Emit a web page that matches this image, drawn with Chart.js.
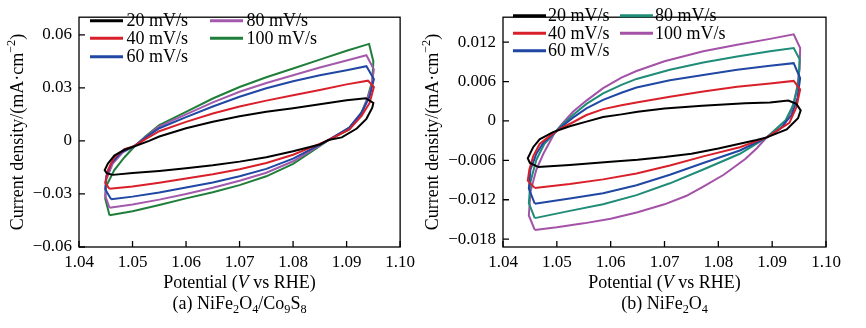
<!DOCTYPE html>
<html><head><meta charset="utf-8">
<script src="https://cdn.jsdelivr.net/npm/chart.js@4.4.0/dist/chart.umd.min.js"></script>
<style>
html,body{margin:0;padding:0;background:#fff;width:866px;height:328px;overflow:hidden}
#wrap{position:relative;width:866px;height:328px}
canvas{position:absolute;top:0}
</style></head><body>
<div id="wrap">
<canvas id="ca" width="420" height="328" style="left:0"></canvas>
<canvas id="cb" width="446" height="328" style="left:420px"></canvas>
</div>
<script>
// ---------- data ----------
const SERIES_LABELS = ['20 mV/s', '40 mV/s', '60 mV/s', '80 mV/s', '100 mV/s'];
const X_TICKS = [1.04, 1.05, 1.06, 1.07, 1.08, 1.09, 1.10];
const Y_TICKS_A = [-0.06, -0.03, 0, 0.03, 0.06];
const Y_TICKS_B = [-0.018, -0.012, -0.006, 0, 0.006, 0.012];

// (a) NiFe2O4/Co9S8 : [potential V, current density mA/cm2] around each loop
const A20 = [[1.0463,-0.0192],[1.0452,-0.0183],[1.0448,-0.0165],[1.0454,-0.0128],[1.0466,-0.0083],[1.0485,-0.0050],[1.0504,-0.0030],[1.0531,0.0000],[1.0550,0.0025],[1.0600,0.0072],[1.0650,0.0108],[1.0700,0.0140],[1.0750,0.0165],[1.0800,0.0185],[1.0850,0.0208],[1.0900,0.0230],[1.0936,0.0242],[1.0950,0.0215],[1.0948,0.0188],[1.0937,0.0125],[1.0919,0.0070],[1.0891,0.0020],[1.0866,0.0005],[1.0850,-0.0020],[1.0800,-0.0058],[1.0750,-0.0092],[1.0700,-0.0117],[1.0650,-0.0138],[1.0600,-0.0155],[1.0550,-0.0170],[1.0500,-0.0182],[1.0463,-0.0192]];
const A40 = [[1.0457,-0.0271],[1.0449,-0.0237],[1.0454,-0.0165],[1.0466,-0.0092],[1.0485,-0.0047],[1.0504,-0.0028],[1.0525,0.0012],[1.0550,0.0055],[1.0600,0.0108],[1.0650,0.0155],[1.0700,0.0195],[1.0750,0.0228],[1.0800,0.0258],[1.0850,0.0288],[1.0900,0.0320],[1.0940,0.0341],[1.0951,0.0305],[1.0943,0.0215],[1.0928,0.0142],[1.0905,0.0065],[1.0866,0.0005],[1.0835,-0.0035],[1.0800,-0.0078],[1.0750,-0.0125],[1.0700,-0.0160],[1.0650,-0.0188],[1.0600,-0.0212],[1.0550,-0.0236],[1.0500,-0.0258],[1.0457,-0.0271]];
const A60 = [[1.0460,-0.0330],[1.0449,-0.0273],[1.0451,-0.0200],[1.0460,-0.0128],[1.0479,-0.0065],[1.0504,-0.0028],[1.0525,0.0020],[1.0550,0.0072],[1.0600,0.0135],[1.0650,0.0195],[1.0700,0.0250],[1.0750,0.0298],[1.0800,0.0338],[1.0850,0.0372],[1.0900,0.0400],[1.0937,0.0423],[1.0951,0.0350],[1.0943,0.0251],[1.0928,0.0160],[1.0905,0.0075],[1.0866,0.0005],[1.0835,-0.0045],[1.0800,-0.0100],[1.0750,-0.0158],[1.0700,-0.0200],[1.0650,-0.0235],[1.0600,-0.0264],[1.0550,-0.0292],[1.0500,-0.0315],[1.0460,-0.0330]];
const A80 = [[1.0457,-0.0378],[1.0449,-0.0309],[1.0451,-0.0219],[1.0463,-0.0128],[1.0482,-0.0065],[1.0504,-0.0028],[1.0525,0.0024],[1.0550,0.0082],[1.0600,0.0150],[1.0650,0.0218],[1.0700,0.0278],[1.0750,0.0328],[1.0800,0.0372],[1.0850,0.0415],[1.0900,0.0455],[1.0937,0.0485],[1.0951,0.0404],[1.0946,0.0300],[1.0930,0.0170],[1.0905,0.0075],[1.0866,0.0005],[1.0835,-0.0052],[1.0800,-0.0115],[1.0750,-0.0180],[1.0700,-0.0225],[1.0650,-0.0265],[1.0600,-0.0300],[1.0550,-0.0332],[1.0500,-0.0360],[1.0457,-0.0378]];
const A100 = [[1.0457,-0.0420],[1.0449,-0.0327],[1.0451,-0.0255],[1.0466,-0.0165],[1.0485,-0.0092],[1.0504,-0.0030],[1.0525,0.0028],[1.0550,0.0090],[1.0600,0.0165],[1.0650,0.0240],[1.0700,0.0305],[1.0750,0.0360],[1.0800,0.0410],[1.0850,0.0460],[1.0900,0.0510],[1.0942,0.0549],[1.0950,0.0450],[1.0948,0.0341],[1.0938,0.0233],[1.0925,0.0142],[1.0905,0.0065],[1.0866,0.0005],[1.0835,-0.0060],[1.0800,-0.0130],[1.0750,-0.0200],[1.0700,-0.0250],[1.0650,-0.0290],[1.0600,-0.0325],[1.0550,-0.0362],[1.0500,-0.0398],[1.0457,-0.0420]];

// (b) NiFe2O4
const B20 = [[1.0465,-0.0070],[1.0450,-0.0064],[1.0446,-0.0057],[1.0456,-0.0040],[1.0468,-0.0028],[1.0493,-0.0017],[1.0524,-0.0008],[1.0555,-0.0001],[1.0586,0.0006],[1.0620,0.0010],[1.0650,0.0014],[1.0700,0.0019],[1.0770,0.0023],[1.0850,0.0027],[1.0896,0.0028],[1.0930,0.0031],[1.0945,0.0026],[1.0953,0.0016],[1.0948,0.0004],[1.0927,-0.0013],[1.0890,-0.0025],[1.0871,-0.0029],[1.0800,-0.0042],[1.0750,-0.0050],[1.0700,-0.0055],[1.0650,-0.0059],[1.0600,-0.0062],[1.0524,-0.0067],[1.0465,-0.0070]];
const B40 = [[1.0459,-0.0102],[1.0446,-0.0091],[1.0449,-0.0074],[1.0456,-0.0054],[1.0468,-0.0035],[1.0493,-0.0019],[1.0510,-0.0010],[1.0530,-0.0002],[1.0555,0.0009],[1.0586,0.0018],[1.0620,0.0024],[1.0648,0.0028],[1.0710,0.0037],[1.0772,0.0045],[1.0835,0.0052],[1.0896,0.0057],[1.0940,0.0061],[1.0952,0.0048],[1.0945,0.0021],[1.0932,-0.0003],[1.0890,-0.0025],[1.0840,-0.0040],[1.0772,-0.0054],[1.0710,-0.0068],[1.0648,-0.0080],[1.0586,-0.0089],[1.0524,-0.0096],[1.0459,-0.0102]];
const B60 = [[1.0459,-0.0126],[1.0448,-0.0103],[1.0451,-0.0074],[1.0462,-0.0050],[1.0475,-0.0033],[1.0496,-0.0018],[1.0510,-0.0008],[1.0530,0.0005],[1.0555,0.0019],[1.0586,0.0032],[1.0620,0.0043],[1.0648,0.0051],[1.0710,0.0062],[1.0772,0.0070],[1.0835,0.0078],[1.0896,0.0084],[1.0940,0.0088],[1.0952,0.0065],[1.0947,0.0035],[1.0936,0.0009],[1.0915,-0.0012],[1.0890,-0.0025],[1.0840,-0.0045],[1.0772,-0.0064],[1.0710,-0.0082],[1.0648,-0.0098],[1.0586,-0.0110],[1.0524,-0.0118],[1.0459,-0.0126]];
const B80 = [[1.0459,-0.0148],[1.0448,-0.0125],[1.0451,-0.0093],[1.0462,-0.0059],[1.0477,-0.0035],[1.0496,-0.0018],[1.0510,-0.0006],[1.0530,0.0009],[1.0555,0.0026],[1.0586,0.0042],[1.0620,0.0055],[1.0648,0.0064],[1.0710,0.0078],[1.0772,0.0089],[1.0835,0.0098],[1.0896,0.0106],[1.0940,0.0111],[1.0951,0.0094],[1.0949,0.0060],[1.0940,0.0026],[1.0925,0.0001],[1.0890,-0.0025],[1.0840,-0.0050],[1.0772,-0.0074],[1.0710,-0.0095],[1.0648,-0.0113],[1.0586,-0.0127],[1.0524,-0.0137],[1.0459,-0.0148]];
const B100 = [[1.0459,-0.0166],[1.0448,-0.0144],[1.0451,-0.0108],[1.0462,-0.0074],[1.0475,-0.0050],[1.0496,-0.0018],[1.0510,-0.0004],[1.0530,0.0014],[1.0555,0.0031],[1.0586,0.0050],[1.0620,0.0066],[1.0648,0.0076],[1.0700,0.0091],[1.0772,0.0106],[1.0835,0.0116],[1.0896,0.0125],[1.0940,0.0132],[1.0952,0.0111],[1.0951,0.0079],[1.0945,0.0045],[1.0936,0.0016],[1.0920,-0.0008],[1.0890,-0.0025],[1.0871,-0.0042],[1.0850,-0.0058],[1.0810,-0.0082],[1.0772,-0.0100],[1.0741,-0.0114],[1.0700,-0.0127],[1.0650,-0.0139],[1.0600,-0.0149],[1.0550,-0.0156],[1.0500,-0.0162],[1.0459,-0.0166]];

const COLORS_A = ['#000000', '#d9202a', '#1f47a3', '#a45aac', '#1f7f3a'];
const COLORS_B = ['#000000', '#d9202a', '#1f47a3', '#1f8c78', '#a452a8'];

// ---------- drawing helpers ----------
const FONT = '"Liberation Serif", "Times New Roman", serif';
Chart.defaults.font.family = FONT;
Chart.defaults.color = '#000';

function drawRich(ctx, segs, x, y, size) {
  const pieces = segs.map(([t, k]) => {
    const s = (k === 'sub' || k === 'sup') ? size * 0.68 : size;
    const f = (k === 'i' ? 'italic ' : '') + s + 'px ' + FONT;
    ctx.font = f;
    return { t, k, f, w: ctx.measureText(t).width };
  });
  const total = pieces.reduce((a, p) => a + p.w, 0);
  let cx = x - total / 2;
  ctx.textAlign = 'left';
  ctx.textBaseline = 'middle';
  for (const p of pieces) {
    ctx.font = p.f;
    const dy = p.k === 'sub' ? size * 0.3 : (p.k === 'sup' ? -size * 0.36 : 0);
    ctx.fillText(p.t, cx, y + dy);
    cx += p.w;
  }
}

const decor = {
  id: 'decor',
  afterDraw(chart, args, o) {
    const { ctx, chartArea: a, scales: { x, y } } = chart;
    ctx.save();
    ctx.strokeStyle = '#000';
    ctx.lineWidth = 1.3;
    ctx.strokeRect(a.left, a.top, a.right - a.left, a.bottom - a.top);
    ctx.beginPath();
    x.ticks.forEach(t => { const p = x.getPixelForValue(t.value); ctx.moveTo(p, a.bottom); ctx.lineTo(p, a.bottom - 6); });
    y.ticks.forEach(t => { const p = y.getPixelForValue(t.value); ctx.moveTo(a.left, p); ctx.lineTo(a.left + 6, p); });
    ctx.stroke();
    // legend
    const L = o.legend;
    chart.data.datasets.forEach((ds, i) => {
      const col = i < 3 ? 0 : 1;
      const row = i < 3 ? i : i - 3;
      const lx = L.cols[col], ly = L.rows[row];
      ctx.strokeStyle = ds.borderColor;
      ctx.lineWidth = 3;
      ctx.beginPath(); ctx.moveTo(lx, ly); ctx.lineTo(lx + L.len, ly); ctx.stroke();
      ctx.fillStyle = '#000';
      ctx.font = L.size + 'px ' + FONT;
      ctx.textAlign = 'left'; ctx.textBaseline = 'middle';
      ctx.fillText(ds.label, lx + L.len + L.gap, ly + 1);
    });
    // titles
    ctx.fillStyle = '#000';
    const cx = (a.left + a.right) / 2;
    drawRich(ctx, [['Potential (', ''], ['V', 'i'], [' vs RHE)', '']], cx, o.xTitleY, o.size);
    drawRich(ctx, o.caption, cx, o.captionY, o.size);
    ctx.save();
    ctx.translate(o.yTitleX, o.yTitleY);
    ctx.rotate(-Math.PI / 2);
    drawRich(ctx, [['Current density/(mA\u00b7cm', ''], ['\u22122', 'sup'], [')', '']], 0, 0, o.size);
    ctx.restore();
    ctx.restore();
  }
};

function fmt(v, d) {
  if (Math.abs(v) < 1e-12) return '0';
  return (v < 0 ? '\u2212' : '') + Math.abs(v).toFixed(d);
}

function makeChart(id, loops, colors, yMin, yMax, yTicks, yDec, geo, caption) {
  const datasets = loops.map((pts, i) => ({
    label: SERIES_LABELS[i],
    data: pts.map(([v, j]) => ({ x: v, y: j })),
    borderColor: colors[i],
    backgroundColor: colors[i],
    borderWidth: 2,
    showLine: true,
    pointRadius: 0,
    tension: 0,
    fill: false
  }));
  return new Chart(document.getElementById(id), {
    type: 'scatter',
    data: { datasets },
    options: {
      responsive: false,
      animation: false,
      events: [],
      layout: { padding: { top: 7, right: geo.padRight, left: 0, bottom: 0 } },
      plugins: {
        legend: { display: false },
        tooltip: { enabled: false },
        decor: {
          legend: geo.legend,
          size: 18,
          xTitleY: 283,
          captionY: 304,
          yTitleX: geo.yTitleX,
          yTitleY: 132,
          caption
        }
      },
      scales: {
        x: {
          type: 'linear', min: 1.04, max: 1.10,
          grid: { display: false, drawTicks: false },
          border: { display: false },
          afterBuildTicks: s => { s.ticks = X_TICKS.map(v => ({ value: v })); },
          afterFit: s => { s.height = 81; },
          ticks: { font: { size: 17 }, color: '#000', padding: 5, maxRotation: 0, callback: v => v.toFixed(2) }
        },
        y: {
          type: 'linear', min: yMin, max: yMax,
          grid: { display: false, drawTicks: false },
          border: { display: false },
          afterBuildTicks: s => { s.ticks = yTicks.map(v => ({ value: v })); },
          afterFit: s => { s.width = geo.yWidth; },
          ticks: { font: { size: 17 }, color: '#000', padding: 7, callback: v => fmt(v, yDec) }
        }
      }
    },
    plugins: [decor]
  });
}

makeChart('ca', [A20, A40, A60, A80, A100], COLORS_A, -0.06, 0.07, Y_TICKS_A, 2,
  { padRight: 18, yWidth: 79, yTitleX: 18,
    legend: { cols: [90, 210], rows: [20.7, 38.3, 56.7], len: 33, gap: 3.5, size: 18 } },
  [['(a) NiFe', ''], ['2', 'sub'], ['O', ''], ['4', 'sub'], ['/Co', ''], ['9', 'sub'], ['S', ''], ['8', 'sub']]);

makeChart('cb', [B20, B40, B60, B80, B100], COLORS_B, -0.0192, 0.0158, Y_TICKS_B, 3,
  { padRight: 40, yWidth: 83, yTitleX: 13,
    legend: { cols: [93, 200], rows: [15.7, 33.3, 50.7], len: 33, gap: 2, size: 18 } },
  [['(b) NiFe', ''], ['2', 'sub'], ['O', ''], ['4', 'sub']]);
</script>
</body></html>
